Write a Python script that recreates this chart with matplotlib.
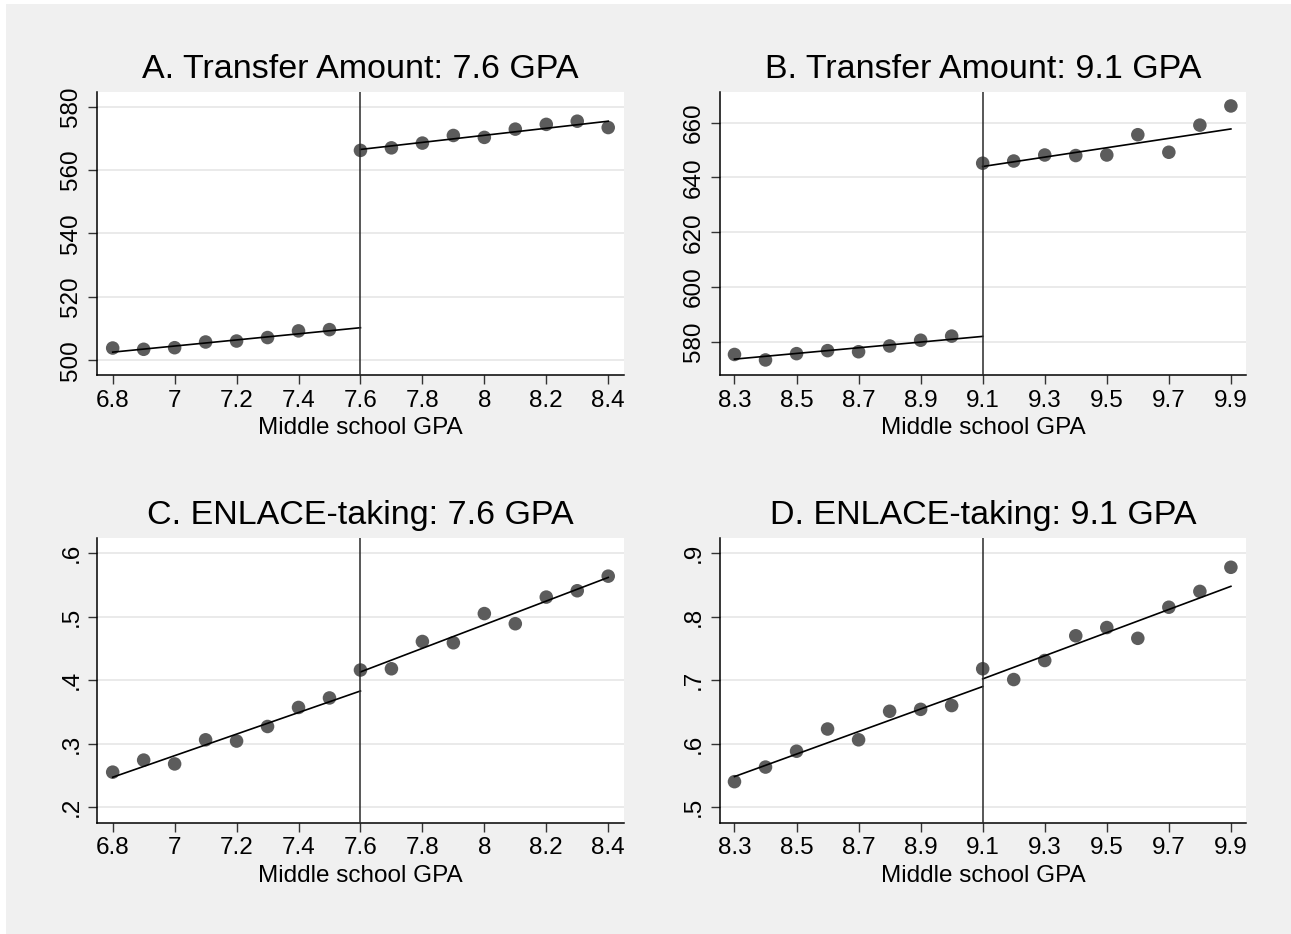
import matplotlib
matplotlib.use("Agg")
import matplotlib.pyplot as plt
from matplotlib.patches import Rectangle
import numpy as np

plt.rcParams["font.family"] = ["Liberation Sans", "DejaVu Sans"]

# binned means by middle school GPA
gpa_low = [6.8, 6.9, 7.0, 7.1, 7.2, 7.3, 7.4, 7.5, 7.6, 7.7, 7.8, 7.9, 8.0, 8.1, 8.2, 8.3, 8.4]
gpa_high = [8.3, 8.4, 8.5, 8.6, 8.7, 8.8, 8.9, 9.0, 9.1, 9.2, 9.3, 9.4, 9.5, 9.6, 9.7, 9.8, 9.9]

transfer_76 = [503.9, 503.5, 504.0, 505.8, 506.1, 507.2, 509.3, 509.7,
               566.2, 567.0, 568.5, 570.9, 570.3, 572.9, 574.4, 575.4, 573.4]
transfer_91 = [575.4, 573.4, 575.7, 576.8, 576.4, 578.5, 580.6, 582.1,
               645.2, 646.0, 648.2, 648.0, 648.2, 655.6, 649.2, 659.1, 666.1]
enlace_76 = [0.255, 0.274, 0.268, 0.306, 0.304, 0.327, 0.357, 0.372,
             0.416, 0.418, 0.461, 0.459, 0.505, 0.489, 0.531, 0.541, 0.564]
enlace_91 = [0.540, 0.563, 0.588, 0.623, 0.606, 0.651, 0.654, 0.660,
             0.718, 0.701, 0.731, 0.770, 0.783, 0.766, 0.815, 0.840, 0.878]

# fitted lines on each side of the cutoff: (x0, x1, y0, y1)
fit_transfer_76 = [(6.8, 7.6, 502.6, 510.3), (7.6, 8.4, 566.5, 575.4)]
fit_transfer_91 = [(8.3, 9.1, 573.7, 582.0), (9.1, 9.9, 644.0, 657.7)]
fit_enlace_76 = [(6.8, 7.6, 0.247, 0.383), (7.6, 8.4, 0.413, 0.562)]
fit_enlace_91 = [(8.3, 9.1, 0.548, 0.690), (9.1, 9.9, 0.702, 0.848)]

cutoffs = [7.6, 9.1, 7.6, 9.1]
titles = ["A. Transfer Amount: 7.6 GPA", "B. Transfer Amount: 9.1 GPA",
          "C. ENLACE-taking: 7.6 GPA", "D. ENLACE-taking: 9.1 GPA"]
xticks_low = [6.8, 7.0, 7.2, 7.4, 7.6, 7.8, 8.0, 8.2, 8.4]
xticklabels_low = ["6.8", "7", "7.2", "7.4", "7.6", "7.8", "8", "8.2", "8.4"]
xticks_high = [8.3, 8.5, 8.7, 8.9, 9.1, 9.3, 9.5, 9.7, 9.9]
yticks_a = [500, 520, 540, 560, 580]
yticks_b = [580, 600, 620, 640, 660]
yticks_c = [0.2, 0.3, 0.4, 0.5, 0.6]
ytl_c = [".2", ".3", ".4", ".5", ".6"]
yticks_d = [0.5, 0.6, 0.7, 0.8, 0.9]
ytl_d = [".5", ".6", ".7", ".8", ".9"]

W, H = 1291, 934
fig = plt.figure(figsize=(W / 100, H / 100), dpi=100, facecolor="white")
fig.patches.append(Rectangle((6 / W, 0), 1 - 6 / W, 1 - 4 / H, transform=fig.transFigure,
                             facecolor="#f0f0f0", edgecolor="none", zorder=-10))


def px_axes(x0, y0, x1, y1):
    return fig.add_axes([x0 / W, 1 - y1 / H, (x1 - x0) / W, (y1 - y0) / H])


panels = [
    dict(box=(96.9, 91.7, 623.7, 375.3), x=gpa_low, y=transfer_76, fit=fit_transfer_76,
         xlim=(6.749, 8.45), ylim=(495.3, 584.7), xt=xticks_low, xtl=xticklabels_low,
         yt=yticks_a, ytl=[str(v) for v in yticks_a]),
    dict(box=(719.6, 91.7, 1246.4, 375.3), x=gpa_high, y=transfer_91, fit=fit_transfer_91,
         xlim=(8.252, 9.95), ylim=(567.8, 671.3), xt=xticks_high,
         xtl=[str(v) for v in xticks_high], yt=yticks_b, ytl=[str(v) for v in yticks_b]),
    dict(box=(96.9, 538.3, 623.7, 822.7), x=gpa_low, y=enlace_76, fit=fit_enlace_76,
         xlim=(6.749, 8.45), ylim=(0.1753, 0.6237), xt=xticks_low, xtl=xticklabels_low,
         yt=yticks_c, ytl=ytl_c),
    dict(box=(719.6, 538.3, 1246.4, 822.7), x=gpa_high, y=enlace_91, fit=fit_enlace_91,
         xlim=(8.252, 9.95), ylim=(0.4753, 0.9237), xt=xticks_high,
         xtl=[str(v) for v in xticks_high], yt=yticks_d, ytl=ytl_d),
]

for p, cut, title in zip(panels, cutoffs, titles):
    ax = px_axes(*p["box"])
    ax.set_facecolor("white")
    ax.scatter(p["x"], p["y"], s=95, color="#5c5c5c", edgecolors="none", zorder=3)
    for x0, x1, y0, y1 in p["fit"]:
        ax.plot([x0, x1], [y0, y1], color="black", lw=1.2, zorder=4)
    ax.axvline(cut, color="#2a2a2a", lw=1.1, zorder=5)
    ax.set_xlim(*p["xlim"])
    ax.set_ylim(*p["ylim"])
    ax.set_xticks(p["xt"])
    ax.set_xticklabels(p["xtl"])
    ax.set_yticks(p["yt"])
    ax.set_yticklabels(p["ytl"], rotation=90, va="center")
    ax.grid(axis="y", color="#e8e8e8", lw=1.3, zorder=0)
    ax.set_axisbelow(True)
    for side in ["top", "right"]:
        ax.spines[side].set_visible(False)
    for side in ["left", "bottom"]:
        ax.spines[side].set_linewidth(1.1)
        ax.spines[side].set_color("black")
    ax.tick_params(axis="both", direction="out", length=6.5, width=1.0, color="#333333",
                   labelsize=17.5, pad=4)
    ax.set_xlabel("Middle school GPA", fontsize=17.5, labelpad=4)
    x0, top, x1, _ = p["box"]
    fig.text((x0 + x1) / 2 / W, 1 - (top - 14.2) / H, title, fontsize=24.5,
             ha="center", va="baseline")

fig.savefig("out.png", dpi=100, facecolor=fig.get_facecolor())
